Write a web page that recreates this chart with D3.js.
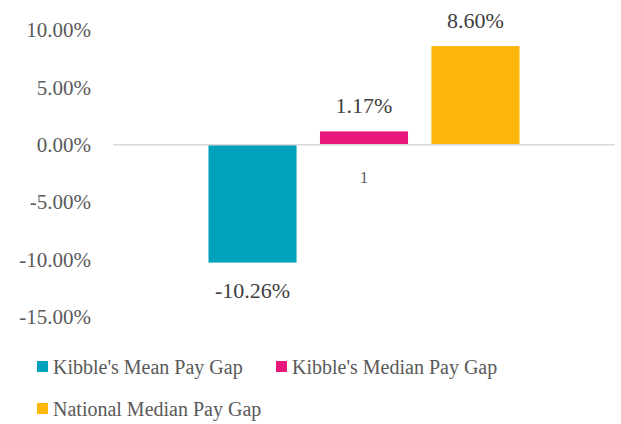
<!DOCTYPE html>
<html>
<head>
<meta charset="utf-8">
<script src="https://cdn.jsdelivr.net/npm/d3@7"></script>
<style>
  body { margin: 0; background: #fff; }
  text { font-family: "Liberation Serif", "DejaVu Serif", serif; }
</style>
</head>
<body>
<div id="chart"></div>
<script>
const categories = ["1"];
const seriesNames = ["Kibble's Mean Pay Gap", "Kibble's Median Pay Gap", "National Median Pay Gap"];
const seriesValues = [-10.26, 1.17, 8.60];
const seriesColors = ["#00A1BA", "#E8177B", "#FFB60B"];
const yTicks = [10, 5, 0, -5, -10, -15];

const width = 621, height = 424;
const plot = { left: 113, right: 615, top: 30, bottom: 317 };

// plain hyphen for negatives, like the original
const pct = d => d3.format(".2f")(d).replace("\u2212", "-") + "%";

const svg = d3.select("#chart").append("svg")
  .attr("width", width)
  .attr("height", height);

const y = d3.scaleLinear()
  .domain([-15, 10])
  .range([plot.bottom, plot.top]);

const x0 = d3.scaleBand()
  .domain(categories)
  .range([plot.left, plot.right])
  .paddingInner(0)
  .paddingOuter(0.307);

const x1 = d3.scaleBand()
  .domain(seriesNames)
  .range([0, x0.bandwidth()])
  .paddingInner(0.21);

// y axis labels
const yAxis = d3.axisLeft(y)
  .tickValues(yTicks)
  .tickFormat(pct)
  .tickSize(0)
  .tickPadding(0);

const ya = svg.append("g")
  .attr("transform", `translate(91,0)`)
  .call(yAxis)
  .attr("font-family", "'Liberation Serif', serif")
  .attr("font-size", 21);
ya.select(".domain").remove();
ya.selectAll("text")
  .attr("fill", "#595959");

// bars
const g = svg.append("g").attr("transform", `translate(${x0(categories[0])},0)`);
g.selectAll("rect")
  .data(seriesNames)
  .enter()
  .append("rect")
  .attr("x", d => x1(d))
  .attr("width", x1.bandwidth())
  .attr("y", (d, i) => y(Math.max(0, seriesValues[i])))
  .attr("height", (d, i) => Math.abs(y(seriesValues[i]) - y(0)))
  .attr("fill", (d, i) => seriesColors[i]);

// zero line
svg.append("line")
  .attr("x1", plot.left).attr("x2", plot.right)
  .attr("y1", y(0)).attr("y2", y(0))
  .attr("stroke", "#D9D9D9")
  .attr("stroke-width", 1.5);

// data labels
g.selectAll(".lbl")
  .data(seriesNames)
  .enter()
  .append("text")
  .attr("class", "lbl")
  .attr("x", d => x1(d) + x1.bandwidth() / 2)
  .attr("y", (d, i) => seriesValues[i] < 0 ? y(seriesValues[i]) + 35 : y(seriesValues[i]) - 18)
  .attr("text-anchor", "middle")
  .attr("font-size", "22px")
  .attr("fill", "#404040")
  .text((d, i) => pct(seriesValues[i]));

// category label
svg.append("text")
  .attr("x", x0(categories[0]) + x0.bandwidth() / 2)
  .attr("y", y(0) + 38)
  .attr("text-anchor", "middle")
  .attr("font-size", "16px")
  .attr("fill", "#595959")
  .text(categories[0]);

// legend
const legendPos = [[37, 367], [276, 367], [37, 409]];
const lg = svg.selectAll(".leg")
  .data(seriesNames)
  .enter()
  .append("g")
  .attr("transform", (d, i) => `translate(${legendPos[i][0]},${legendPos[i][1]})`);
lg.append("rect")
  .attr("x", 0).attr("y", -6)
  .attr("width", 11).attr("height", 11)
  .attr("fill", (d, i) => seriesColors[i]);
lg.append("text")
  .attr("x", 16)
  .attr("y", 7)
  .attr("font-size", "20px")
  .attr("fill", "#595959")
  .text(d => d);
</script>
</body>
</html>
